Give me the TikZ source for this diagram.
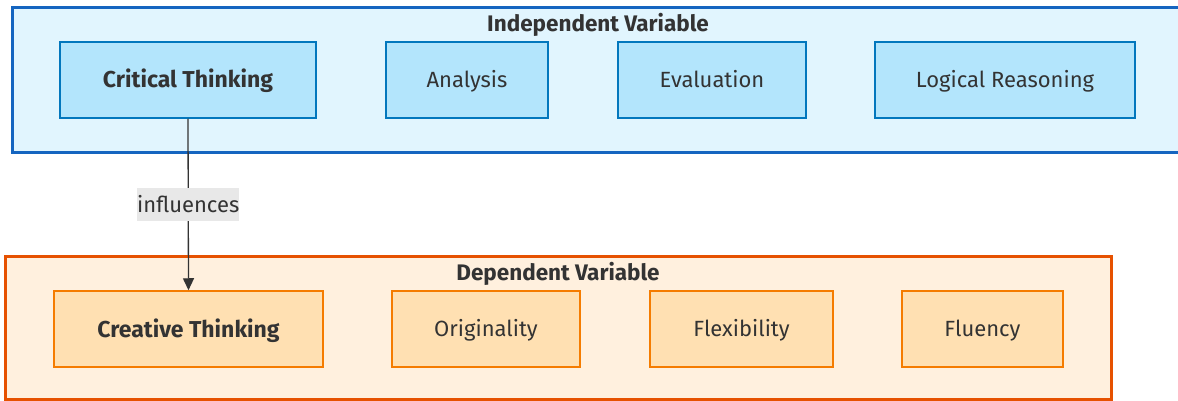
\documentclass[tikz,border=0pt]{standalone}
\usepackage{fontspec}
\setmainfont{Fira Sans}
\usetikzlibrary{arrows.meta}
\definecolor{txt}{HTML}{333333}
\definecolor{ivfill}{HTML}{E1F5FE}
\definecolor{ivline}{HTML}{1565C0}
\definecolor{ivnode}{HTML}{B3E5FC}
\definecolor{ivnodeline}{HTML}{0277BD}
\definecolor{dvfill}{HTML}{FFF0DE}
\definecolor{dvline}{HTML}{E65100}
\definecolor{dvnode}{HTML}{FFE0B2}
\definecolor{dvnodeline}{HTML}{F57C00}
\definecolor{lblbg}{HTML}{E8E8E8}
\tikzset{
  basetext/.style={text=txt, text height=15.5pt, text depth=0pt, inner sep=0pt,
    font=\fontsize{22}{26}\selectfont},
  boldtext/.style={text height=16pt, font=\bfseries\fontsize{23}{27}\selectfont},
  ivbox/.style={basetext, draw=ivnodeline, fill=ivnode, line width=1.5pt, minimum height=76pt},
  dvbox/.style={basetext, draw=dvnodeline, fill=dvnode, line width=1.5pt, minimum height=76pt},
  clustertitle/.style={basetext, text height=16pt, font=\bfseries\fontsize{22.5}{27}\selectfont},
  edgelabel/.style={basetext, fill=lblbg, minimum width=102pt, minimum height=33pt},
  link/.style={draw=txt, line width=1.3pt, -{Triangle[length=12pt,width=11pt]}}
}
\begin{document}
\begin{tikzpicture}[x=1pt,y=-1pt]
\useasboundingbox (0,0) rectangle (1178,401);
\begin{scope}
\clip (0,0) rectangle (1178,401);
% independent variable group
\draw[draw=ivline, fill=ivfill, line width=3pt] (12,8) rectangle (1195,153);
% dependent variable group
\draw[draw=dvline, fill=dvfill, line width=3pt] (5,256) rectangle (1111,399.5);
\end{scope}
\node[clustertitle] (ivtitle) at (598,24) {Independent Variable};
\node[clustertitle] (dvtitle) at (558,272) {Dependent Variable};

\node[ivbox, boldtext, minimum width=256pt] (ct) at (188,80) {Critical Thinking};
\node[ivbox, minimum width=162pt] (an) at (467,80) {Analysis};
\node[ivbox, minimum width=188pt] (ev) at (712,80) {Evaluation};
\node[ivbox, minimum width=260pt] (lr) at (1005,80) {Logical Reasoning};

\node[dvbox, boldtext, minimum width=269pt] (cr) at (188.5,329) {Creative Thinking};
\node[dvbox, minimum width=188pt] (or) at (486,329) {Originality};
\node[dvbox, minimum width=183pt] (fx) at (741.5,329) {Flexibility};
\node[dvbox, minimum width=161pt] (fl) at (982.5,329) {Fluency};

\draw[link] (ct.south) -- node[edgelabel, pos=0.5] (inf) {influences} (cr.north);
\end{tikzpicture}
\end{document}
